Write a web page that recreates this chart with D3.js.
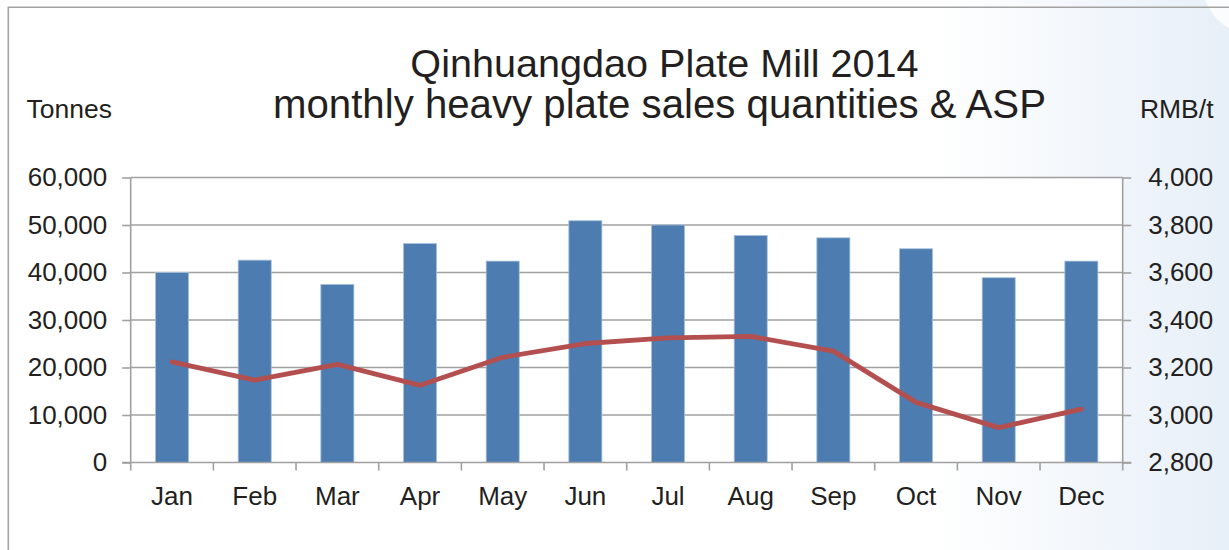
<!DOCTYPE html>
<html>
<head>
<meta charset="utf-8">
<script src="https://cdn.jsdelivr.net/npm/d3@7"></script>
<style>
  html, body { margin: 0; padding: 0; background: #fff; }
  svg { display: block; }
  text { font-family: "Liberation Sans", Arial, Helvetica, sans-serif; fill: #231f20; }
</style>
</head>
<body>
<svg id="chart" width="1229" height="550"></svg>
<script>
const months = ["Jan","Feb","Mar","Apr","May","Jun","Jul","Aug","Sep","Oct","Nov","Dec"];
const salesTonnes = [40000, 42600, 37500, 46100, 42400, 50900, 50000, 47800, 47300, 45000, 38900, 42400];
const aspRmb = [3224, 3147, 3213, 3125, 3243, 3301, 3325, 3331, 3269, 3053, 2947, 3025];
const leftTicks = [0, 10000, 20000, 30000, 40000, 50000, 60000];
const rightTicks = [2800, 3000, 3200, 3400, 3600, 3800, 4000];
const titleLines = ["Qinhuangdao Plate Mill 2014", "monthly heavy plate sales quantities & ASP"];

const svg = d3.select("#chart");
const W = 1229, H = 550;
const plot = { left: 130.7, right: 1122.7, top: 177.5, bottom: 462.5 };

// background gradient (right side bluish tint)
const defs = svg.append("defs");
const grad = defs.append("linearGradient").attr("id", "bg").attr("x1", 0).attr("x2", 1).attr("y1", 0).attr("y2", 0);
grad.append("stop").attr("offset", "0").attr("stop-color", "#ffffff");
grad.append("stop").attr("offset", "0.76").attr("stop-color", "#ffffff");
grad.append("stop").attr("offset", "1").attr("stop-color", "#e7eff8");
svg.append("rect").attr("x", 0).attr("y", 0).attr("width", W).attr("height", H).attr("fill", "url(#bg)");
// white curve at top-right corner
svg.append("path")
  .attr("d", "M1205,0 Q1215,22 1229,28 L1229,0 Z")
  .attr("fill", "#ffffff").attr("opacity", 0.8);

// frame
svg.append("path")
  .attr("d", `M8.3,${H + 2} L8.3,7.3 L${W + 2},7.3`)
  .attr("fill", "none").attr("stroke", "#a3a3a3").attr("stroke-width", 1.6);

// plot area background white
svg.append("rect").attr("x", plot.left).attr("y", plot.top)
  .attr("width", plot.right - plot.left).attr("height", plot.bottom - plot.top).attr("fill", "#fff");

const x = d3.scaleBand().domain(months).range([plot.left, plot.right]).paddingInner(0.6).paddingOuter(0.3);
const xb = d3.scaleBand().domain(months).range([plot.left, plot.right]);
const yL = d3.scaleLinear().domain([0, 60000]).range([plot.bottom, plot.top]);
const yR = d3.scaleLinear().domain([2800, 4000]).range([plot.bottom, plot.top]);

const gridColor = "#a0a0a0";
// gridlines
svg.append("g").selectAll("line").data(leftTicks.filter(d => d > 0)).join("line")
  .attr("x1", plot.left).attr("x2", plot.right)
  .attr("y1", d => yL(d)).attr("y2", d => yL(d))
  .attr("stroke", gridColor).attr("stroke-width", 1.6);

// bars
svg.append("g").selectAll("rect").data(salesTonnes).join("rect")
  .attr("x", (d, i) => x(months[i]))
  .attr("width", x.bandwidth())
  .attr("y", d => yL(d))
  .attr("height", d => yL(0) - yL(d))
  .attr("fill", "#4d7cb0")
  .attr("stroke", "#a9c1dd").attr("stroke-width", 0.8);

// left axis
const axL = svg.append("g").attr("transform", `translate(${plot.left},0)`)
  .call(d3.axisLeft(yL).tickValues(leftTicks).tickSize(8.5).tickPadding(15).tickFormat(d3.format(",")));
// right axis
const axR = svg.append("g").attr("transform", `translate(${plot.right},0)`)
  .call(d3.axisRight(yR).tickValues(rightTicks).tickSize(8.5).tickPadding(17).tickFormat(d3.format(",")));
// bottom axis with ticks at band edges
const axB = svg.append("g").attr("transform", `translate(0,${plot.bottom})`)
  .call(d3.axisBottom(xb).tickSize(0).tickPadding(24));
const edges = months.map(m => xb(m)).concat([plot.right]);
svg.append("g").selectAll("line").data(edges).join("line")
  .attr("x1", d => d).attr("x2", d => d)
  .attr("y1", plot.bottom).attr("y2", plot.bottom + 8)
  .attr("stroke", gridColor).attr("stroke-width", 1.6);

[axL, axR, axB].forEach(ax => {
  ax.select(".domain").attr("stroke", gridColor).attr("stroke-width", 1.6);
  ax.selectAll(".tick line").attr("stroke", gridColor).attr("stroke-width", 1.6);
  ax.selectAll("text").style("font-size", "26px").attr("fill", "#231f20");
});
axL.select(".domain").attr("d", `M0,${plot.top}V${plot.bottom}`);
axR.select(".domain").attr("d", `M0,${plot.top}V${plot.bottom}`);
axB.select(".domain").attr("d", `M${plot.left - 8.5},0H${plot.right + 8.5}`);
axB.selectAll("text").attr("dy", "0.71em").attr("y", 24);

// ASP line
const line = d3.line().x((d, i) => xb(months[i]) + xb.bandwidth() / 2).y(d => yR(d));
svg.append("path").datum(aspRmb)
  .attr("d", line)
  .attr("fill", "none").attr("stroke", "#b44f50").attr("stroke-width", 4.8)
  .attr("stroke-linejoin", "round").attr("stroke-linecap", "round");

// titles
svg.append("text").attr("x", 664.5).attr("y", 77).attr("text-anchor", "middle")
  .style("font-size", "39.6px").text(titleLines[0]);
svg.append("text").attr("x", 659.5).attr("y", 118).attr("text-anchor", "middle")
  .style("font-size", "40.2px").text(titleLines[1]);

// axis unit labels
svg.append("text").attr("x", 26.5).attr("y", 118).style("font-size", "26.5px").text("Tonnes");
svg.append("text").attr("x", 1213.5).attr("y", 118).attr("text-anchor", "end").style("font-size", "26.5px").text("RMB/t");
</script>
</body>
</html>
